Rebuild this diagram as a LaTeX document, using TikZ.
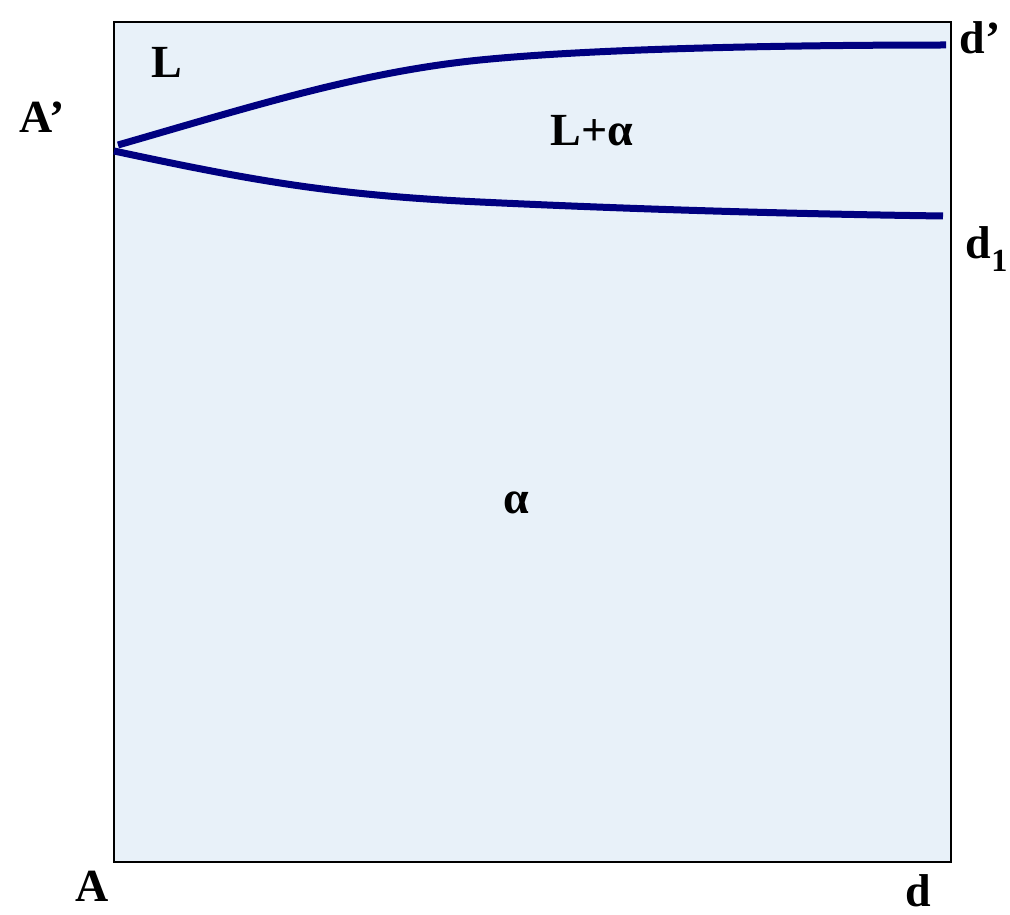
\documentclass[tikz,border=0pt]{standalone}
\usepackage{fontspec}
\setmainfont{Liberation Serif}
\definecolor{boxfill}{HTML}{E8F1F9}
\definecolor{navy}{HTML}{000080}
\begin{document}
\begin{tikzpicture}[x=1pt,y=-1pt,
  lbl/.style={font=\fontsize{46}{50}\selectfont\bfseries, inner sep=0pt},
  curve/.style={draw=navy, line width=7pt}]
\useasboundingbox (0,0) rectangle (1010,915);
\draw[fill=boxfill, line width=2pt] (114,22) rectangle (951,862);
\coordinate (u0) at (118,145);
\coordinate (u1) at (946,45);
\coordinate (l0) at (114,151);
\coordinate (l1) at (943,216);
\draw[curve] (u0) .. controls (250,107) and (360,72) .. (480,60)
  .. controls (600,48) and (800,45) .. (u1);
\draw[curve] (l0) .. controls (250,180) and (330,195) .. (480,202)
  .. controls (650,210) and (800,214) .. (l1);
\node[lbl] (L) at (167,62) {L};
\node[lbl] (La) at (592,131) {L+α};
\node[lbl] (al) at (516,503) {α};
\node[lbl] (Ap) at (42,117) {A’};
\node[lbl] (dp) at (980,38) {d’};
\node[lbl] (d1) at (987,249) {d$_{\mathbf 1}$};
\node[lbl] (A) at (92,886) {A};
\node[lbl] (d) at (918,891) {d};
\end{tikzpicture}
\end{document}
